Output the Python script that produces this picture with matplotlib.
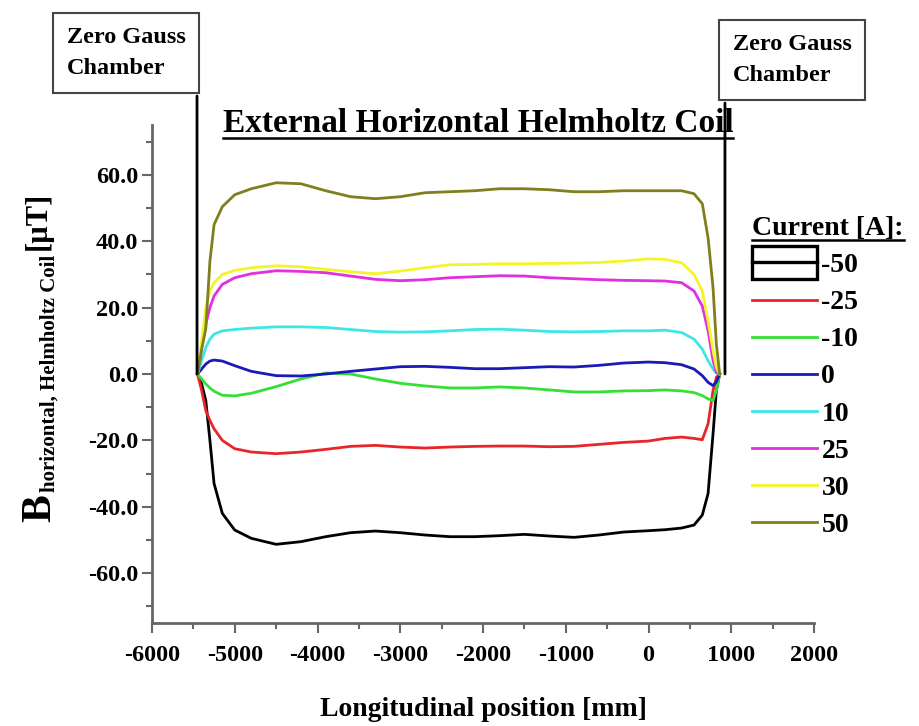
import matplotlib
matplotlib.use("Agg")
import matplotlib.pyplot as plt
from matplotlib.ticker import MultipleLocator, FuncFormatter
from matplotlib.legend_handler import HandlerBase
from matplotlib.patches import Rectangle
from matplotlib.lines import Line2D

plt.rcParams['font.family'] = ['Liberation Serif', 'DejaVu Serif']
plt.rcParams['font.weight'] = 'bold'

# Longitudinal position [mm]
position = [-5450, -5400, -5350, -5300, -5250, -5150, -5000, -4800, -4500,
            -4200, -3900, -3600, -3300, -3000, -2700, -2400, -2100, -1800,
            -1500, -1200, -900, -600, -300, 0, 200, 400, 550, 650, 720,
            780, 820, 860]

# Field for each coil current [uT]
b_m50 = [0, -3, -8, -20, -33, -42, -47, -49.5, -51.3, -50.5, -49, -47.8,
         -47.3, -47.8, -48.5, -49, -49, -48.7, -48.3, -48.8, -49.2, -48.5,
         -47.6, -47.2, -46.9, -46.4, -45.5, -42.5, -36, -18, -5, 0]
b_m25 = [0, -5, -11, -14, -16.5, -20, -22.5, -23.5, -24, -23.5, -22.7, -21.8,
         -21.5, -22, -22.3, -22, -21.8, -21.7, -21.7, -21.9, -21.8, -21.2,
         -20.6, -20.2, -19.4, -19, -19.4, -19.8, -15, -5, -1, 0]
b_m10 = [0, -1.5, -3, -4.2, -5.2, -6.4, -6.6, -5.8, -3.8, -1.5, 0.3, 0,
         -1.5, -2.8, -3.6, -4.2, -4.2, -3.9, -4.2, -4.8, -5.4, -5.4, -5.1,
         -5, -4.8, -5.1, -5.6, -6.5, -7.5, -8, -5, 0]
b_0 = [0, 1.5, 3, 3.9, 4.2, 3.9, 2.5, 0.8, -0.5, -0.6, 0, 0.8, 1.5, 2.2,
       2.3, 2, 1.6, 1.6, 1.9, 2.2, 2.1, 2.6, 3.3, 3.6, 3.4, 2.8, 1.5, -0.5,
       -2.5, -3.5, -2.4, 0]
b_10 = [0, 4, 8, 10.5, 12, 13, 13.4, 13.8, 14.2, 14.2, 14, 13.4, 12.8, 12.6,
        12.7, 13, 13.4, 13.5, 13.2, 12.8, 12.7, 12.8, 13, 13, 13.2, 12.5,
        10.5, 7.5, 4, 1.5, 0.3, 0]
b_25 = [0, 8, 15, 20, 23.5, 27, 29, 30.2, 31.1, 30.9, 30.5, 29.5, 28.5, 28.1,
        28.4, 29, 29.3, 29.6, 29.5, 29, 28.7, 28.4, 28.2, 28.1, 28, 27.5,
        25, 20.5, 13, 4, 0.5, 0]
b_30 = [0, 10, 20, 25, 27.5, 30, 31.2, 32, 32.6, 32.3, 31.5, 30.8, 30.2, 31,
        32, 32.9, 33, 33.2, 33.2, 33.3, 33.4, 33.6, 34, 34.7, 34.5, 33.5,
        30, 25, 16, 7, 2, 0]
b_50 = [0, 7.5, 13.6, 34, 45, 50.4, 54, 55.8, 57.6, 57.3, 55.2, 53.4, 52.8,
        53.4, 54.6, 54.9, 55.2, 55.8, 55.8, 55.5, 54.9, 54.9, 55.2, 55.2,
        55.2, 55.2, 54.3, 51.3, 41, 26, 9, 0]

series = [b_m50, b_m25, b_m10, b_0, b_10, b_25, b_30, b_50]
labels = ['-50', '-25', '-10', '0', '10', '25', '30', '50']
colors = ['black', '#e8262a', '#35e035', '#1a1ab8', '#3ee6e6', '#e030e0',
          '#f4f42a', '#7f7f1e']

# chamber edges [mm]
chamber_left = -5456
chamber_right = 924


class BoxLineHandler(HandlerBase):
    def create_artists(self, legend, orig_handle, xdescent, ydescent,
                       width, height, fontsize, trans):
        h = fontsize * 1.2
        yc = height / 2 - ydescent
        rect = Rectangle((-xdescent, yc - h / 2), width, h, facecolor='none',
                         edgecolor='black', lw=2.4, transform=trans)
        line = Line2D([-xdescent, -xdescent + width], [yc, yc],
                      color=orig_handle.get_color(), lw=2.4, transform=trans)
        return [rect, line]


W, H = 919, 726
fig = plt.figure(figsize=(W / 100, H / 100), dpi=100)
ax = fig.add_axes([152 / W, 103 / H, 662 / W, 498 / H])

lines = []
for vals, lab, col in zip(series, labels, colors):
    ln, = ax.plot(position, vals, color=col, lw=2.0, label=lab)
    lines.append(ln)

ax.set_xlim(-6000, 2000)
ax.set_ylim(-75, 75)
ax.xaxis.set_major_locator(MultipleLocator(1000))
ax.xaxis.set_minor_locator(MultipleLocator(500))
ax.yaxis.set_major_locator(MultipleLocator(20))
ax.yaxis.set_minor_locator(MultipleLocator(10))
ax.xaxis.set_major_formatter(FuncFormatter(lambda v, p: f'{v:.0f}'))
ax.yaxis.set_major_formatter(FuncFormatter(lambda v, p: f'{v:.1f}'))

for side in ['top', 'right']:
    ax.spines[side].set_visible(False)
for side in ['left', 'bottom']:
    ax.spines[side].set_color('#666666')
    ax.spines[side].set_linewidth(2)
ax.tick_params(which='both', direction='out', color='#666666', width=1.5)
ax.tick_params(which='major', length=7, labelsize=17.5)
ax.tick_params(which='minor', length=4)
ax.tick_params(axis='x', which='major', pad=9)
ax.tick_params(axis='y', which='major', pad=3)

ax.set_xlabel('Longitudinal position [mm]', fontsize=20, fontweight='bold',
              va='top')
ax.xaxis.set_label_coords(0.5, -0.148)

# y label built from three rotated pieces (big B, small subscript, unit)
fig.text(50 / W, 1 - 522 / H, 'B', rotation=90, rotation_mode='anchor',
         ha='left', va='baseline', fontsize=30, fontweight='bold')
fig.text(55 / W, 1 - 492 / H, 'horizontal, Helmholtz Coil', rotation=90,
         rotation_mode='anchor', ha='left', va='baseline', fontsize=15,
         fontweight='bold')
fig.text(46 / W, 1 - 250 / H, '[µT]', rotation=90, rotation_mode='anchor',
         ha='left', va='baseline', fontsize=22, fontweight='bold')

title = fig.text(478 / W, 1 - 132 / H, 'External Horizontal Helmholtz Coil',
                 ha='center', va='baseline', fontsize=24, fontweight='bold')

box = dict(boxstyle='square,pad=0.55', facecolor='white', edgecolor='#444444',
           lw=1.5)
fig.text(126 / W, 1 - 53 / H, 'Zero Gauss\nChamber', ha='center', va='center',
         multialignment='left', fontsize=17.5, fontweight='bold',
         linespacing=1.65, bbox=box)
fig.text(792 / W, 1 - 60 / H, 'Zero Gauss\nChamber', ha='center', va='center',
         multialignment='left', fontsize=17.5, fontweight='bold',
         linespacing=1.65, bbox=box)
for xpos, ytop in [(chamber_left, 96), (chamber_right, 103)]:
    ax.annotate('', xy=(xpos, 0), xytext=(xpos, 1 - ytop / H),
                textcoords=('data', 'figure fraction'),
                arrowprops=dict(arrowstyle='-', color='black', lw=2,
                                shrinkA=0, shrinkB=0),
                annotation_clip=False)

leg = fig.legend(handles=lines, loc='upper left',
                 bbox_to_anchor=(752 / W, 1 - 216 / H),
                 bbox_transform=fig.transFigure, frameon=False,
                 title='Current [A]:', alignment='left',
                 prop={'size': 20, 'weight': 'bold'},
                 title_fontproperties={'size': 20, 'weight': 'bold'},
                 handlelength=2.35, handletextpad=0.15, labelspacing=0.42,
                 borderpad=0, borderaxespad=0,
                 handler_map={lines[0]: BoxLineHandler()})

# underline title and legend title
fig.canvas.draw()
inv = fig.transFigure.inverted()
for txt in [title, leg.get_title()]:
    bb = txt.get_window_extent()
    (x0, y0), (x1, _) = inv.transform([[bb.x0, bb.y0], [bb.x1, bb.y1]])
    fig.add_artist(Line2D([x0, x1], [y0 + 0.002, y0 + 0.002], color='black',
                          lw=1.8, transform=fig.transFigure))

fig.savefig('out.png', dpi=100)
